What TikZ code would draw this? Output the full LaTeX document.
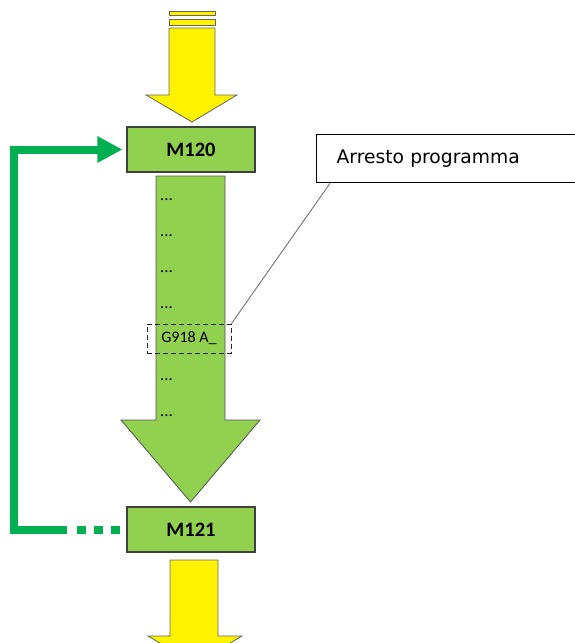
\documentclass[tikz,border=0pt]{standalone}
\usepackage{fontspec}
\setmainfont{Carlito}
\newfontfamily\calloutfont{DejaVu Sans}
\usetikzlibrary{arrows.meta,calc}

\definecolor{blockgreen}{HTML}{92D050}
\definecolor{loopgreen}{HTML}{00B050}
\definecolor{edgegray}{HTML}{404040}

\tikzset{
	mbox/.style={draw=edgegray, line width=1.2pt, fill=blockgreen, minimum width=128pt, minimum height=45pt, font=\fontsize{20.5}{23}\selectfont\bfseries},
	yellowarrow/.style={draw=edgegray!80, line width=0.8pt, fill=yellow},
	greenarrow/.style={draw=edgegray!90, line width=0.8pt, fill=blockgreen},
	codeline/.style={anchor=base west, inner sep=0pt, font=\fontsize{16.5}{19}\selectfont},
	codebox/.style={draw=black!85, dash pattern=on 5pt off 3pt, line width=1pt, minimum width=84pt, minimum height=29pt, font=\fontsize{16}{19}\selectfont},
	callout/.style={draw=black, line width=1.3pt, fill=white, text width=264pt, inner xsep=20pt, minimum height=48pt, align=left, font=\calloutfont\fontsize{18.7}{22}\selectfont}
}

\begin{document}
\begin{tikzpicture}[x=1pt, y=-1pt]
		\clip (0,0) rectangle (575,643);
		\fill[white] (0,0) rectangle (575,643);

		\draw[yellowarrow] (169,11) rectangle (215,15);
		\draw[yellowarrow] (169,19) rectangle (215,25);
		\draw[yellowarrow] (169,28) -- (215,28) -- (215,95) -- (237,95) -- (192,122) -- (146,95) -- (169,95) -- cycle;

		\node[mbox] (m120) at (191,149.5) {M120};

		\draw[greenarrow] (156,176) -- (225,176) -- (225,420) -- (260,420) -- (190.5,502) -- (121,420) -- (156,420) -- cycle;

		\node[codeline] (d1) at (160,200) {...};
		\node[codeline] (d2) at (160,236) {...};
		\node[codeline] (d3) at (160,272) {...};
		\node[codeline] (d4) at (160,308) {...};
		\node[codebox] (g918) at (189,338.5) {G918 A\_};
		\node[codeline] (d5) at (160,380) {...};
		\node[codeline] (d6) at (160,416) {...};

		\node[mbox] (m121) at (191,529.5) {M121};

		\draw[yellowarrow] (170,560) -- (218,560) -- (218,636) -- (242,636) -- (195,664) -- (148,636) -- (170,636) -- cycle;

		\node[callout, anchor=north west] (stop) at (316,134) {Arresto programma};
		\draw[black!55, line width=0.9pt] ($(stop.south west)+(14,0)$) -- (g918.north east);

		\coordinate (loopstart) at ($(m121.west)+(-6,0)$);
		\draw[loopgreen, line width=8pt, dash pattern=on 9pt off 8pt on 9pt off 8pt on 9pt off 10pt on 2000pt, -{Triangle[length=25pt,width=25pt]}, shorten >=4pt]
			(loopstart) -- (14,529.5) |- (m120.west);
	\end{tikzpicture}
\end{document}
